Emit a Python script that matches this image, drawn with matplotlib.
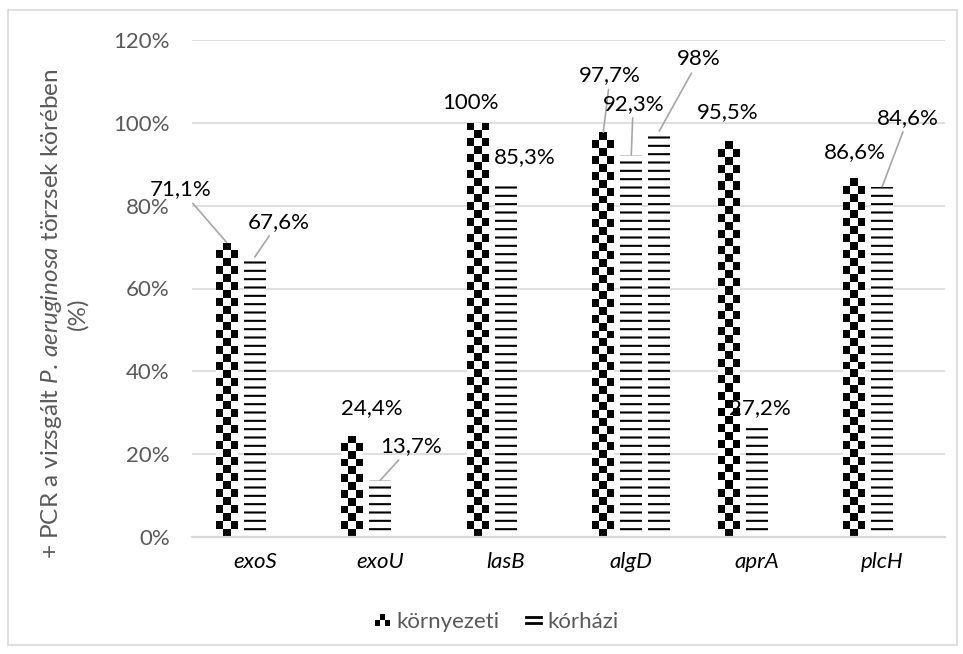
import numpy as np
import matplotlib
matplotlib.use("Agg")
import matplotlib.pyplot as plt
from matplotlib.colors import ListedColormap
from matplotlib.patches import Rectangle
from matplotlib.lines import Line2D
from matplotlib.legend_handler import HandlerBase

plt.rcParams["font.family"] = ["Lato", "DejaVu Sans"]
plt.rcParams["mathtext.fontset"] = "custom"
plt.rcParams["mathtext.rm"] = "Lato"
plt.rcParams["mathtext.it"] = "Lato:italic"
plt.rcParams["hatch.linewidth"] = 1.5

# ---- data -------------------------------------------------------------
genes = ["exoS", "exoU", "lasB", "algD", "aprA", "plcH"]
kornyezeti = [71.1, 24.4, 100.0, 97.7, 95.5, 86.6]
korhazi = [67.6, 13.7, 85.3, 92.3, 27.2, 84.6]
extra = [0, 0, 0, 98.0, 0, 0]

kornyezeti_text = ["71,1%", "24,4%", "100%", "97,7%", "95,5%", "86,6%"]
korhazi_text = ["67,6%", "13,7%", "85,3%", "92,3%", "27,2%", "84,6%"]
extra_text = [None, None, None, "98%", None, None]

yticks = [0, 20, 40, 60, 80, 100, 120]
ytick_labels = ["0%", "20%", "40%", "60%", "80%", "100%", "120%"]
series_names = ["környezeti", "kórházi"]

# label placement (pixel offsets from the bar top) and leader-line flags
kornyezeti_offsets = [(-46, 53), (20, 28), (-7, 20), (7, 57), (-1, 29), (1, 26)]
kornyezeti_leader = [True, False, False, True, False, False]
korhazi_offsets = [(24, 35), (31, 34), (19, 27), (2, 51), (3, 16), (26, 69)]
korhazi_leader = [True, True, False, True, False, True]
extra_offsets = [None, None, None, (40, 72), None, None]
extra_leader = [False, False, False, True, False, False]

GRID = "#d9d9d9"
GRAY_TXT = "#595959"
FS = 16

fig = plt.figure(figsize=(9.63, 6.54), dpi=100)
ax = fig.add_axes([192 / 963, 1 - 537 / 654, (945 - 192) / 963, (537 - 40) / 654])

x = np.arange(len(genes))
step = 0.223
width = 0.175

ax.set_xlim(-0.5, len(genes) - 0.5)
ax.set_ylim(0, 120)

bars_env = ax.bar(x - step, kornyezeti, width, color="white", edgecolor="none",
                  linewidth=0, zorder=2)
bars_hosp = ax.bar(x, korhazi, width, color="white", edgecolor="black",
                   linewidth=0, hatch="--", zorder=2)
bars_extra = ax.bar(x + step, extra, width, color="white", edgecolor="black",
                    linewidth=0, hatch="--", zorder=2)

# checkerboard texture inside the "környezeti" bars
checker_cmap = ListedColormap(["white", "black"])
cell_w_px, cell_h_px = 7.0, 8.0
for rect in bars_env:
    x0, y0 = rect.get_x(), rect.get_y()
    w, h = rect.get_width(), rect.get_height()
    if h <= 0:
        continue
    p0 = ax.transData.transform((x0, y0))
    p1 = ax.transData.transform((x0 + w, y0 + h))
    nx = max(1, int(round((p1[0] - p0[0]) / cell_w_px)))
    ny = max(1, int(round((p1[1] - p0[1]) / cell_h_px)))
    arr = np.add.outer(np.arange(ny), np.arange(nx)) % 2
    im = ax.imshow(arr, cmap=checker_cmap, vmin=0, vmax=1, origin="lower",
                   extent=(x0, x0 + w, y0, y0 + h), interpolation="nearest",
                   aspect="auto", zorder=2.5)
    im.set_clip_path(rect)

ax.set_xlim(-0.5, len(genes) - 0.5)
ax.set_ylim(0, 120)

# axes styling
ax.set_yticks(yticks)
ax.set_yticklabels(ytick_labels, color=GRAY_TXT, fontsize=FS)
ax.set_xticks(x)
ax.set_xticklabels(genes, fontsize=FS, style="italic", color="black")
ax.tick_params(axis="both", length=0)
ax.tick_params(axis="y", pad=16)
ax.tick_params(axis="x", pad=11)
ax.yaxis.grid(True, color=GRID, linewidth=1.2)
ax.set_axisbelow(True)
for s in ["left", "right", "top"]:
    ax.spines[s].set_visible(False)
ax.spines["bottom"].set_color(GRID)
ax.spines["bottom"].set_linewidth(1.6)
ax.spines["bottom"].set_zorder(3)


def add_labels(bars, values, texts, offsets, leaders):
    for rect, v, t, off, lead in zip(bars, values, texts, offsets, leaders):
        if t is None:
            continue
        cx = rect.get_x() + rect.get_width() / 2
        arrow = None
        if lead:
            arrow = dict(arrowstyle="-", color="#a6a6a6", lw=1.2,
                         shrinkA=1, shrinkB=0)
        ax.annotate(t, xy=(cx, v), xytext=off, textcoords="offset pixels",
                    ha="center", va="center", fontsize=FS, color="black",
                    arrowprops=arrow, zorder=4)


add_labels(bars_env, kornyezeti, kornyezeti_text, kornyezeti_offsets, kornyezeti_leader)
add_labels(bars_hosp, korhazi, korhazi_text, korhazi_offsets, korhazi_leader)
add_labels(bars_extra, extra, extra_text, extra_offsets, extra_leader)

# y axis title
fig.text(0.066, 0.52,
         "+ PCR a vizsgált $\\mathit{P.\\,aeruginosa}$ törzsek körében\n(%)",
         rotation=90, ha="center", va="center", multialignment="center",
         fontsize=17.5, color=GRAY_TXT, linespacing=1.15)


# legend handles
class CheckerHandler(HandlerBase):
    def create_artists(self, legend, orig_handle, xdescent, ydescent,
                       width, height, fontsize, trans):
        arts = []
        nx, ny = 3, 2
        cw, ch = width / nx, height / ny
        for i in range(nx):
            for j in range(ny):
                fc = "black" if (i + j) % 2 == 0 else "white"
                arts.append(Rectangle((-xdescent + i * cw, -ydescent + j * ch),
                                      cw, ch, facecolor=fc, edgecolor="none",
                                      transform=trans))
        return arts


class LinesHandler(HandlerBase):
    def create_artists(self, legend, orig_handle, xdescent, ydescent,
                       width, height, fontsize, trans):
        arts = []
        for f in (0.25, 0.75):
            y = -ydescent + f * height
            arts.append(Line2D([-xdescent, -xdescent + width], [y, y],
                               color="black", lw=2, transform=trans))
        return arts


leg = fig.legend([bars_env, bars_hosp], series_names, loc="center",
                 bbox_to_anchor=(497 / 963, 1 - 622 / 654), ncol=2,
                 frameon=False, fontsize=FS, labelcolor=GRAY_TXT,
                 handlelength=0.65, handleheight=0.5, handletextpad=0.3,
                 columnspacing=1.2,
                 handler_map={bars_env: CheckerHandler(), bars_hosp: LinesHandler()})

# chart border
fig.add_artist(Rectangle((8 / 963, 1 - 645 / 654), (957 - 8) / 963, (645 - 10) / 654,
                         transform=fig.transFigure, fill=False, edgecolor=GRID,
                         linewidth=1.2))

fig.savefig("out.png", dpi=100)
